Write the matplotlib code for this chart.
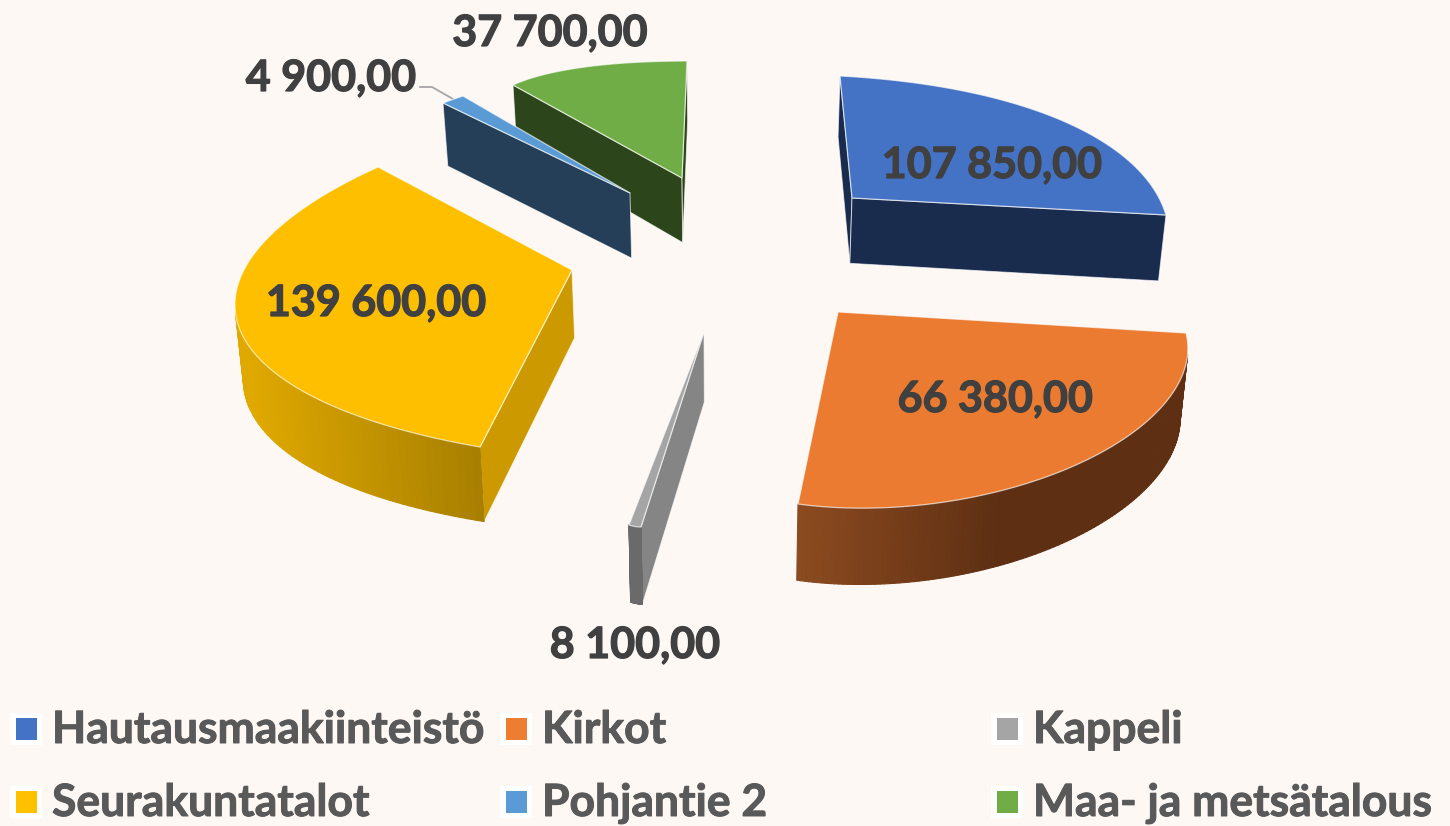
import numpy as np
import matplotlib
matplotlib.use('Agg')
import matplotlib.pyplot as plt
import matplotlib.patheffects as pe
from matplotlib.patches import Polygon, Rectangle
from matplotlib.collections import PolyCollection
from matplotlib.colors import to_rgb

# ---- data ----
categories = ['Hautausmaakiinteistö', 'Kirkot', 'Kappeli', 'Seurakuntatalot', 'Pohjantie 2', 'Maa- ja metsätalous']
values = [107850.0, 66380.0, 8100.0, 139600.0, 4900.0, 37700.0]
value_labels = ['107 850,00', '66 380,00', '8 100,00', '139 600,00', '4 900,00', '37 700,00']

# ---- styles ----
BG = '#FEF8F4'
top_colors = ['#4472C4', '#EA7B31', '#A5A5A5', '#FDBF00', '#5B9BD5', '#70AD47']
legend_colors = ['#4472C4', '#ED7D31', '#A5A5A5', '#FFC000', '#5B9BD5', '#70AD47']
radial_colors = ['#1A2C4E', '#5E2F13', '#858585', '#CC9900', '#243F57', '#2D451A']
arc_grad = [((800, '#1A2C4E'), (1200, '#1A2C4E')), ((797, '#8C4B20'), (1000, '#5E2F13')),
            ((625, '#6A6A6A'), (645, '#6A6A6A')), ((245, '#E0A900'), (482, '#A67E00')),
            ((440, '#243F57'), (465, '#243F57')), ((510, '#2D451A'), (690, '#2D451A'))]

# ---- layout: perspective of each exploded slice (unit pie plane -> pixels) ----
slice_projection = [
    [765.6573, 321.1272, 852.0, 53.74505, -91.85992, 198.0, 0.4116908, 0.39658],
    [-97.27599, 457.2309, 838.0, -127.5291, 60.20155, 312.0, -0.3572249, 0.48956],
    [81.07051, 74.90922, 704.0, 27.65028, -193.0311, 332.0, 0.0, 0.0],
    [222.3019, 82.11649, 572.0, -122.0541, -185.8355, 270.0, -0.4402206, -0.01957869],
    [295.4258, 14.74956, 630.0, -4.116273, -124.9571, 193.0, 0.0, 0.0],
    [-55.52847, -251.9176, 682.0, -30.82936, -139.8122, 178.0, -0.4986357, -0.3739703],
]
label_pos = [(992, 165), (995, 399), (635, 645), (376, 303), (331, 78), (550, 33)]
col_x = [16, 506, 997]
row_y = [729, 802]

vals = np.array(values)
cum = np.cumsum(vals) / vals.sum() * 2 * np.pi
starts = np.r_[0, cum[:-1]]


def unit(a):
    return np.c_[np.sin(a), np.cos(a)]


def project(H, P):
    q = (H @ np.c_[P, np.ones(len(P))].T).T
    return q[:, :2] / q[:, 2:]


def wall_vec(p):
    p = np.atleast_2d(p)
    wx = -0.017 * (p[:, 0] - 725)
    wy = 58.3 + 0.0355 * p[:, 1] + 0.02 * np.maximum(0, 500 - p[:, 0])
    return np.c_[wx, wy]


def visible(a, b):
    d = b - a
    w = wall_vec((a + b) / 2)[0]
    return d[0] * w[1] - d[1] * w[0] < 0


plt.rcParams['font.family'] = ['Lato', 'DejaVu Sans']
fig = plt.figure(figsize=(14.5, 8.26), dpi=100, facecolor=BG)
ax = fig.add_axes([0, 0, 1, 1])
ax.set_xlim(0, 1450)
ax.set_ylim(826, 0)
ax.axis('off')
EDGE = (1, 1, 1, 0.65)

Hs = [np.r_[h, 1.0].reshape(3, 3) for h in slice_projection]
order = np.argsort([H[1, 2] for H in Hs])
for z, i in enumerate(order):
    H = Hs[i]
    ang = np.linspace(starts[i], cum[i], 121)
    arc = project(H, unit(ang))
    tip = project(H, np.zeros((1, 2)))[0]
    base = 2 + z * 3
    for a, b in ((tip, arc[0]), (arc[-1], tip)):
        if visible(a, b):
            ax.add_patch(Polygon([a, b, b + wall_vec(b)[0], a + wall_vec(a)[0]], closed=True,
                                 fc=radial_colors[i], ec=EDGE, lw=0.7, zorder=base))
    (x0, c0), (x1, c1) = arc_grad[i]
    c0 = np.array(to_rgb(c0))
    c1 = np.array(to_rgb(c1))
    polys, cols = [], []
    for a, b in zip(arc[:-1], arc[1:]):
        if visible(a, b):
            polys.append([a, b, b + wall_vec(b)[0], a + wall_vec(a)[0]])
            f = np.clip(((a[0] + b[0]) / 2 - x0) / (x1 - x0), 0, 1)
            cols.append(c0 + (c1 - c0) * f)
    if polys:
        ax.add_collection(PolyCollection(polys, facecolors=cols, edgecolors=cols, linewidths=0.8, zorder=base + 1))
    ax.add_patch(Polygon(np.vstack([tip, arc]), closed=True, fc=top_colors[i], ec=EDGE, lw=0.9,
                         joinstyle='round', zorder=base + 2))

ax.plot([420, 432, 453], [87, 87, 99], color='#A6A6A6', lw=1.3, zorder=1)

for lab, (x, y) in zip(value_labels, label_pos):
    ax.text(x, y, lab, ha='center', va='center', fontsize=31, fontweight='bold', color='#404040', zorder=40,
            path_effects=[pe.withStroke(linewidth=0.9, foreground='#404040')])

for k, cat in enumerate(categories):
    x = col_x[k % 3]
    y = row_y[k // 3]
    ax.add_patch(Rectangle((x - 6, y - 16), 32, 32, fc='white', ec='none', zorder=30))
    ax.add_patch(Rectangle((x, y - 11), 21.5, 22, fc=legend_colors[k], ec='none', zorder=31))
    ax.text(x + 36, y + 14, cat, ha='left', va='baseline', fontsize=32, fontweight='bold', color='#595959', zorder=40,
            path_effects=[pe.withStroke(linewidth=0.7, foreground='#595959')])

fig.savefig('out.png', dpi=100, facecolor=BG)
